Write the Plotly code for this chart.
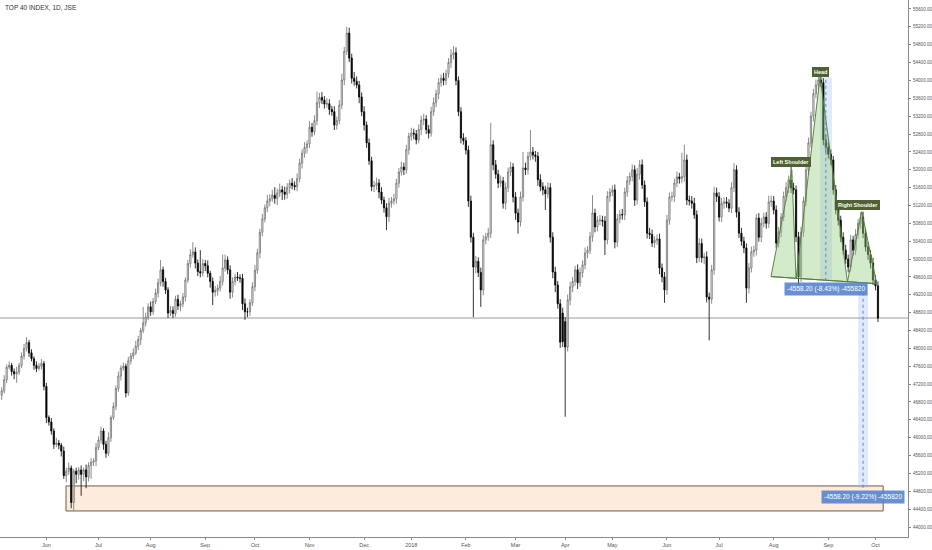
import pandas as pd
import plotly.graph_objects as go

TITLE = "TOP 40 INDEX, 1D, JSE"
START = "2017-05-08"
END = "2018-10-02"
HOLIDAYS = ["2017-06-16", "2017-08-09", "2017-09-25", "2017-12-25", "2017-12-26",
            "2018-01-01", "2018-03-21", "2018-03-30", "2018-04-02", "2018-04-27",
            "2018-05-01", "2018-08-09", "2018-09-24"]

FIRST_OPEN = 46950
CLOSE = [
    47050, 47300, 47580, 47620, 47480, 47430, 47470, 47620, 47830, 48000,
    48130, 47900, 47770, 47620, 47550, 47600, 47660, 47150, 46450, 46350,
    46150, 45850, 45880, 45830, 45700, 45150, 45250, 45320, 44550, 45250,
    45180, 45280, 45180, 45280, 45120, 45380, 45450, 45480, 45780, 45950,
    46150, 45850, 45650, 46000, 46450, 46700, 47100, 47380, 47560, 47600,
    47000, 47720, 47830, 47900, 48050, 48200, 48400, 48570, 48700, 48930,
    48820, 49050, 49240, 49470, 49760, 49500, 49310, 48790, 48850, 48780,
    49100, 48950, 49000, 49150, 49530, 49900, 50100, 50160, 49910, 49720,
    49690, 49900, 49850, 49680, 49500, 49260, 49300, 49350, 49500, 49800,
    49980, 49760, 49260, 49500, 49600, 49580, 49570, 49000, 48820, 48820,
    49020, 49380, 49750, 50140, 50600, 50900, 51150, 51300, 51350, 51430,
    51360, 51480, 51550, 51500, 51450, 51600, 51700, 51650, 51620, 51800,
    52150, 52370, 52500, 52580, 52950, 52850, 53100, 53500, 53620, 53560,
    53470, 53480, 53350, 53300, 53000, 53100, 53450, 54010, 54650, 55060,
    54500, 54050, 53980, 53900, 53630, 53300, 53000, 52600, 52200, 51620,
    51650, 51700, 51500, 51320, 51150, 50950, 51250, 51300, 51350, 51700,
    51950, 52060, 52000, 52450, 52750, 52820, 52800, 52670, 52900, 53110,
    53130, 52900, 52820, 53300, 53500, 53700, 53950, 54050, 54000, 54150,
    54400, 54570, 54620, 54000, 53300, 52710, 52650, 52440, 51300, 50490,
    49820, 49950, 49700, 49310, 50430, 50500, 50580, 52560, 52110, 51900,
    51700, 51750, 51250, 51600, 51950, 52060, 51390, 51030, 50830, 51390,
    52040, 52000, 52300, 52400, 52330, 52300, 51780, 51620, 51550, 51460,
    51600, 50490, 49710, 49420, 49000, 48140, 48150, 48030, 49085, 49380,
    49500, 49760, 49470, 49700, 49870, 50140, 50200, 50500, 51030, 50720,
    50870, 50870, 50850, 50430, 51400, 51500, 51550, 50380, 50900, 51000,
    50990, 51500, 51750, 51850, 52000, 51320, 51900, 52110, 51660, 51280,
    50580, 50550, 50360, 50420, 50450, 49800, 49600, 49310, 50870, 51390,
    51400, 51700, 51840, 51800, 51850, 52220, 51320, 51300, 51250, 50990,
    50030, 50350, 50030, 50050, 49150, 49100, 49760, 51480, 51400, 50940,
    51250, 51280, 51250, 51140, 51600, 52000, 51050, 50580, 50400, 50250,
    49350, 49800, 50160, 50200, 50920, 50490, 50800, 50940, 50800, 51280,
    51300, 51100, 50360, 50600, 50940, 51400, 51600, 51770, 51590, 51550,
    50500, 49600, 50600, 51300, 52000, 52600, 53200, 53700, 53900, 54010,
    53950, 52670, 52500, 52350, 52220, 51550, 51100, 50870, 50490, 50200,
    50000, 49820, 50430, 50200, 50550, 50800, 50940, 50580, 50270, 50100,
    49910, 49530, 49400, 48680,
]
GAP_OPEN = {226: 48790, 227: 48600}

# wick lengths, in tens of index points
WICK_HI = [
    8, 10, 6, 9, 5, 7, 12, 6, 8, 10,
    12, 6, 8, 5, 9, 7, 10, 6, 8, 5,
    9, 6, 12, 7, 5, 10, 8, 12, 6, 5,
    8, 6, 10, 5, 12, 7, 9, 6, 10, 8,
    10, 6, 8, 12, 5, 9, 7, 10, 6, 8,
    6, 9, 7, 10, 12, 8, 6, 36, 10, 8,
    12, 8, 10, 9, 22, 7, 8, 6, 10, 9,
    8, 10, 7, 9, 6, 8, 12, 22, 10, 8,
    48, 10, 8, 12, 6, 9, 10, 8, 12, 30,
    12, 8, 10, 9, 7, 11, 8, 10, 12, 9,
    8, 10, 12, 9, 8, 11, 7, 14, 10, 12,
    18, 10, 14, 9, 12, 10, 8, 11, 9, 12,
    10, 9, 12, 8, 14, 10, 12, 25, 10, 12,
    9, 12, 10, 8, 12, 9, 11, 14, 10, 14,
    12, 10, 14, 11, 9, 10, 12, 8, 10, 9,
    10, 12, 9, 11, 8, 10, 12, 9, 11, 10,
    9, 12, 10, 11, 8, 12, 10, 9, 12, 10,
    12, 9, 10, 11, 12, 9, 10, 8, 12, 9,
    10, 13, 15, 12, 9, 10, 11, 8, 10, 12,
    10, 12, 9, 11, 10, 9, 12, 49, 10, 11,
    10, 12, 9, 11, 10, 12, 9, 11, 10, 12,
    36, 12, 10, 49, 11, 9, 10, 12, 10, 9,
    12, 10, 11, 12, 9, 10, 12, 10, 12, 11,
    10, 9, 12, 11, 10, 12, 9, 11, 40, 10,
    9, 12, 10, 11, 12, 9, 10, 12, 11, 10,
    12, 10, 11, 9, 12, 10, 14, 11, 12, 10,
    10, 12, 11, 9, 10, 12, 10, 11, 12, 10,
    11, 10, 12, 9, 53, 34, 12, 10, 11, 12,
    10, 12, 11, 9, 12, 10, 11, 14, 12, 10,
    12, 10, 11, 9, 12, 15, 10, 11, 12, 10,
    10, 11, 12, 10, 9, 11, 12, 10, 11, 14,
    12, 11, 10, 12, 9, 11, 12, 10, 40, 12,
    10, 11, 12, 10, 11, 12, 10, 11, 12, 10,
    12, 10, 11, 12, 10, 9, 11, 12, 10, 11,
    12, 10, 11, 9, 12, 10, 11, 12, 10, 11,
    10, 12, 11, 10,
]
WICK_LO = [
    10, 6, 8, 5, 9, 12, 20, 7, 6, 8,
    7, 9, 6, 10, 8, 5, 7, 9, 12, 8,
    8, 10, 6, 9, 12, 7, 15, 8, 13, 18,
    20, 12, 48, 15, 25, 10, 30, 8, 12, 6,
    8, 12, 10, 6, 9, 5, 8, 7, 10, 6,
    10, 6, 8, 7, 5, 9, 12, 6, 8, 7,
    9, 7, 6, 10, 8, 12, 9, 11, 7, 10,
    7, 9, 12, 8, 10, 6, 9, 7, 12, 10,
    10, 8, 12, 9, 14, 29, 10, 12, 8, 9,
    8, 10, 15, 12, 9, 7, 10, 14, 18, 12,
    9, 7, 10, 8, 12, 9, 8, 10, 12, 7,
    12, 15, 9, 18, 12, 10, 13, 9, 8, 10,
    8, 12, 10, 14, 9, 11, 8, 10, 12, 9,
    10, 8, 12, 9, 11, 10, 8, 9, 12, 8,
    9, 12, 10, 8, 14, 10, 12, 11, 9, 10,
    12, 10, 14, 9, 11, 30, 12, 10, 8, 11,
    10, 8, 12, 9, 11, 10, 12, 10, 8, 12,
    11, 10, 12, 8, 9, 10, 12, 9, 11, 10,
    9, 12, 10, 11, 10, 12, 9, 10, 13, 12,
    112, 14, 10, 38, 12, 10, 9, 11, 12, 10,
    11, 9, 12, 14, 10, 9, 12, 15, 26, 10,
    10, 12, 11, 9, 10, 12, 14, 10, 12, 36,
    10, 12, 14, 16, 11, 13, 12, 156, 10, 12,
    12, 10, 14, 9, 11, 10, 12, 9, 11, 12,
    10, 11, 12, 34, 10, 12, 9, 14, 11, 10,
    11, 12, 10, 9, 11, 13, 10, 12, 9, 11,
    12, 10, 9, 11, 10, 14, 12, 29, 11, 10,
    10, 12, 9, 11, 10, 12, 11, 10, 12, 9,
    12, 10, 11, 14, 12, 92, 10, 11, 12, 10,
    11, 12, 10, 9, 11, 10, 12, 11, 10, 12,
    33, 12, 10, 11, 12, 10, 11, 9, 12, 10,
    11, 10, 12, 10, 11, 9, 10, 12, 11, 10,
    12, 20, 11, 10, 12, 11, 10, 12, 10, 11,
    10, 12, 11, 10, 12, 11, 10, 12, 11, 10,
    11, 12, 10, 12, 11, 10, 12, 11, 10, 12,
    12, 11, 10, 9,
]

# head & shoulders drawing (bar index, price)
HS_IDX = [309.9, 318.3, 320.0, 329.7, 340.7, 346.5, 352.5]
HS_PRICE = [49608, 51995, 49570, 54084, 49494, 51062, 49449]
HS_LABELS = ["Left Shoulder", "Head", "Right Shoulder"]
HS_LABEL_IDX = [318.0, 329.7, 344.8]
HS_LABEL_PRICE = [52174, 54200, 51212]

# price range tools: (left idx, right idx, mid idx, top price, bottom price, label price, text)
RANGE_TOOLS = [
    (329.7, 334.5, 332.0, 54070, 49512, 49331, "-4558.20 (-8.43%) -455820"),
    (345.0, 349.0, 347.0, 49438, 44880, 44664, "-4558.20 (-9.22%) -455820"),
]
SUPPORT_BOX = (25.9, 355.1, 44360, 44920)
H_LINE = 48680

# ---------------- build ----------------
dates = pd.bdate_range(START, END)
dates = dates[~dates.isin(pd.to_datetime(HOLIDAYS))]
n = min(len(dates), len(CLOSE))
idx = list(range(n))
opens, highs, lows = [], [], []
for j in range(n):
    o = GAP_OPEN.get(j, CLOSE[j - 1] if j > 0 else FIRST_OPEN)
    c = CLOSE[j]
    opens.append(o)
    highs.append(max(o, c) + 10 * WICK_HI[j])
    lows.append(min(o, c) - 10 * WICK_LO[j])

tickvals, ticktext = [], []
seen = set()
for j, d in enumerate(dates[:n]):
    key = (d.year, d.month)
    if key not in seen:
        seen.add(key)
        if j == 0:
            continue
        tickvals.append(j)
        ticktext.append(str(d.year) if d.month == 1 else d.strftime("%b"))

FONT = "Liberation Sans, Arial, sans-serif"
fig = go.Figure()
fig.add_trace(go.Candlestick(
    x=idx, open=opens, high=highs, low=lows, close=CLOSE[:n],
    increasing=dict(line=dict(color="#6e6e6e", width=0.8), fillcolor="#ffffff"),
    decreasing=dict(line=dict(color="#000000", width=0.8), fillcolor="#000000"),
    whiskerwidth=0, showlegend=False, hoverinfo="skip"))

# H&S triangles
tris = [(0, 1, 2), (2, 3, 4), (4, 5, 6)]
for a, b, c in tris:
    fig.add_trace(go.Scatter(
        x=[HS_IDX[a], HS_IDX[b], HS_IDX[c], HS_IDX[a]],
        y=[HS_PRICE[a], HS_PRICE[b], HS_PRICE[c], HS_PRICE[a]],
        mode="lines", fill="toself", fillcolor="rgba(150,205,130,0.42)",
        line=dict(color="rgba(85,125,60,0.95)", width=1),
        showlegend=False, hoverinfo="skip"))
fig.add_trace(go.Scatter(
    x=[HS_IDX[0], HS_IDX[-1]], y=[HS_PRICE[0], HS_PRICE[-1]], mode="lines",
    line=dict(color="rgba(85,125,60,0.95)", width=1), showlegend=False, hoverinfo="skip"))

shapes = []
shapes.append(dict(type="rect", xref="x", yref="y", x0=SUPPORT_BOX[0], x1=SUPPORT_BOX[1],
                   y0=SUPPORT_BOX[2], y1=SUPPORT_BOX[3], fillcolor="#fdebdc",
                   line=dict(color="#6e5b4b", width=1), layer="below"))
shapes.append(dict(type="line", xref="paper", yref="y", x0=0, x1=1, y0=H_LINE, y1=H_LINE,
                   line=dict(color="#9a9a9a", width=1), layer="below"))
annotations = []
for (x0, x1, xm, ptop, pbot, plab, txt) in RANGE_TOOLS:
    shapes.append(dict(type="rect", xref="x", yref="y", x0=x0, x1=x1, y0=pbot, y1=ptop,
                       fillcolor="rgba(140,180,240,0.28)", line=dict(width=0), layer="below"))
    shapes.append(dict(type="line", xref="x", yref="y", x0=xm, x1=xm, y0=pbot, y1=ptop,
                       line=dict(color="#5b86d6", width=1, dash="dot")))
    annotations.append(dict(x=xm, y=plab, xref="x", yref="y", text=txt, showarrow=False,
                            font=dict(family=FONT, size=6.5, color="#ffffff"),
                            bgcolor="rgba(88,132,205,0.9)", borderpad=2))

for t, xi, pi in zip(HS_LABELS, HS_LABEL_IDX, HS_LABEL_PRICE):
    annotations.append(dict(x=xi, y=pi, xref="x", yref="y", text="<b>" + t + "</b>",
                            showarrow=False, font=dict(family=FONT, size=5.5, color="#ffffff"),
                            bgcolor="#4f6130", bordercolor="#4f6130", borderpad=1))

annotations.append(dict(x=3 / 908, y=1 - 7 / 537, xref="paper", yref="paper", text=TITLE,
                        showarrow=False, xanchor="left", yanchor="middle",
                        font=dict(family=FONT, size=6.5, color="#333333")))

fig.update_layout(
    width=932, height=550,
    margin=dict(l=0, r=24, t=0, b=13),
    paper_bgcolor="#ffffff", plot_bgcolor="#ffffff",
    shapes=shapes, annotations=annotations,
    xaxis=dict(range=[-0.69, 365.1], tickvals=tickvals, ticktext=ticktext,
               showgrid=False, zeroline=False, rangeslider=dict(visible=False),
               showline=True, linecolor="#8a8a8a", linewidth=1,
               ticks="outside", ticklen=2, tickcolor="#8a8a8a",
               tickfont=dict(family=FONT, size=5.5, color="#555555")),
    yaxis=dict(range=[43777, 55801], side="right", dtick=400, tick0=44000,
               tickformat=".2f", showgrid=False, zeroline=False,
               showline=True, linecolor="#8a8a8a", linewidth=1,
               ticks="outside", ticklen=2, tickcolor="#8a8a8a", ticklabelstandoff=1,
               tickfont=dict(family=FONT, size=4.6, color="#555555")),
)

fig.write_html("out.html", config={"displayModeBar": False},
               post_script="document.body.style.margin='0';document.body.style.overflow='hidden';")
